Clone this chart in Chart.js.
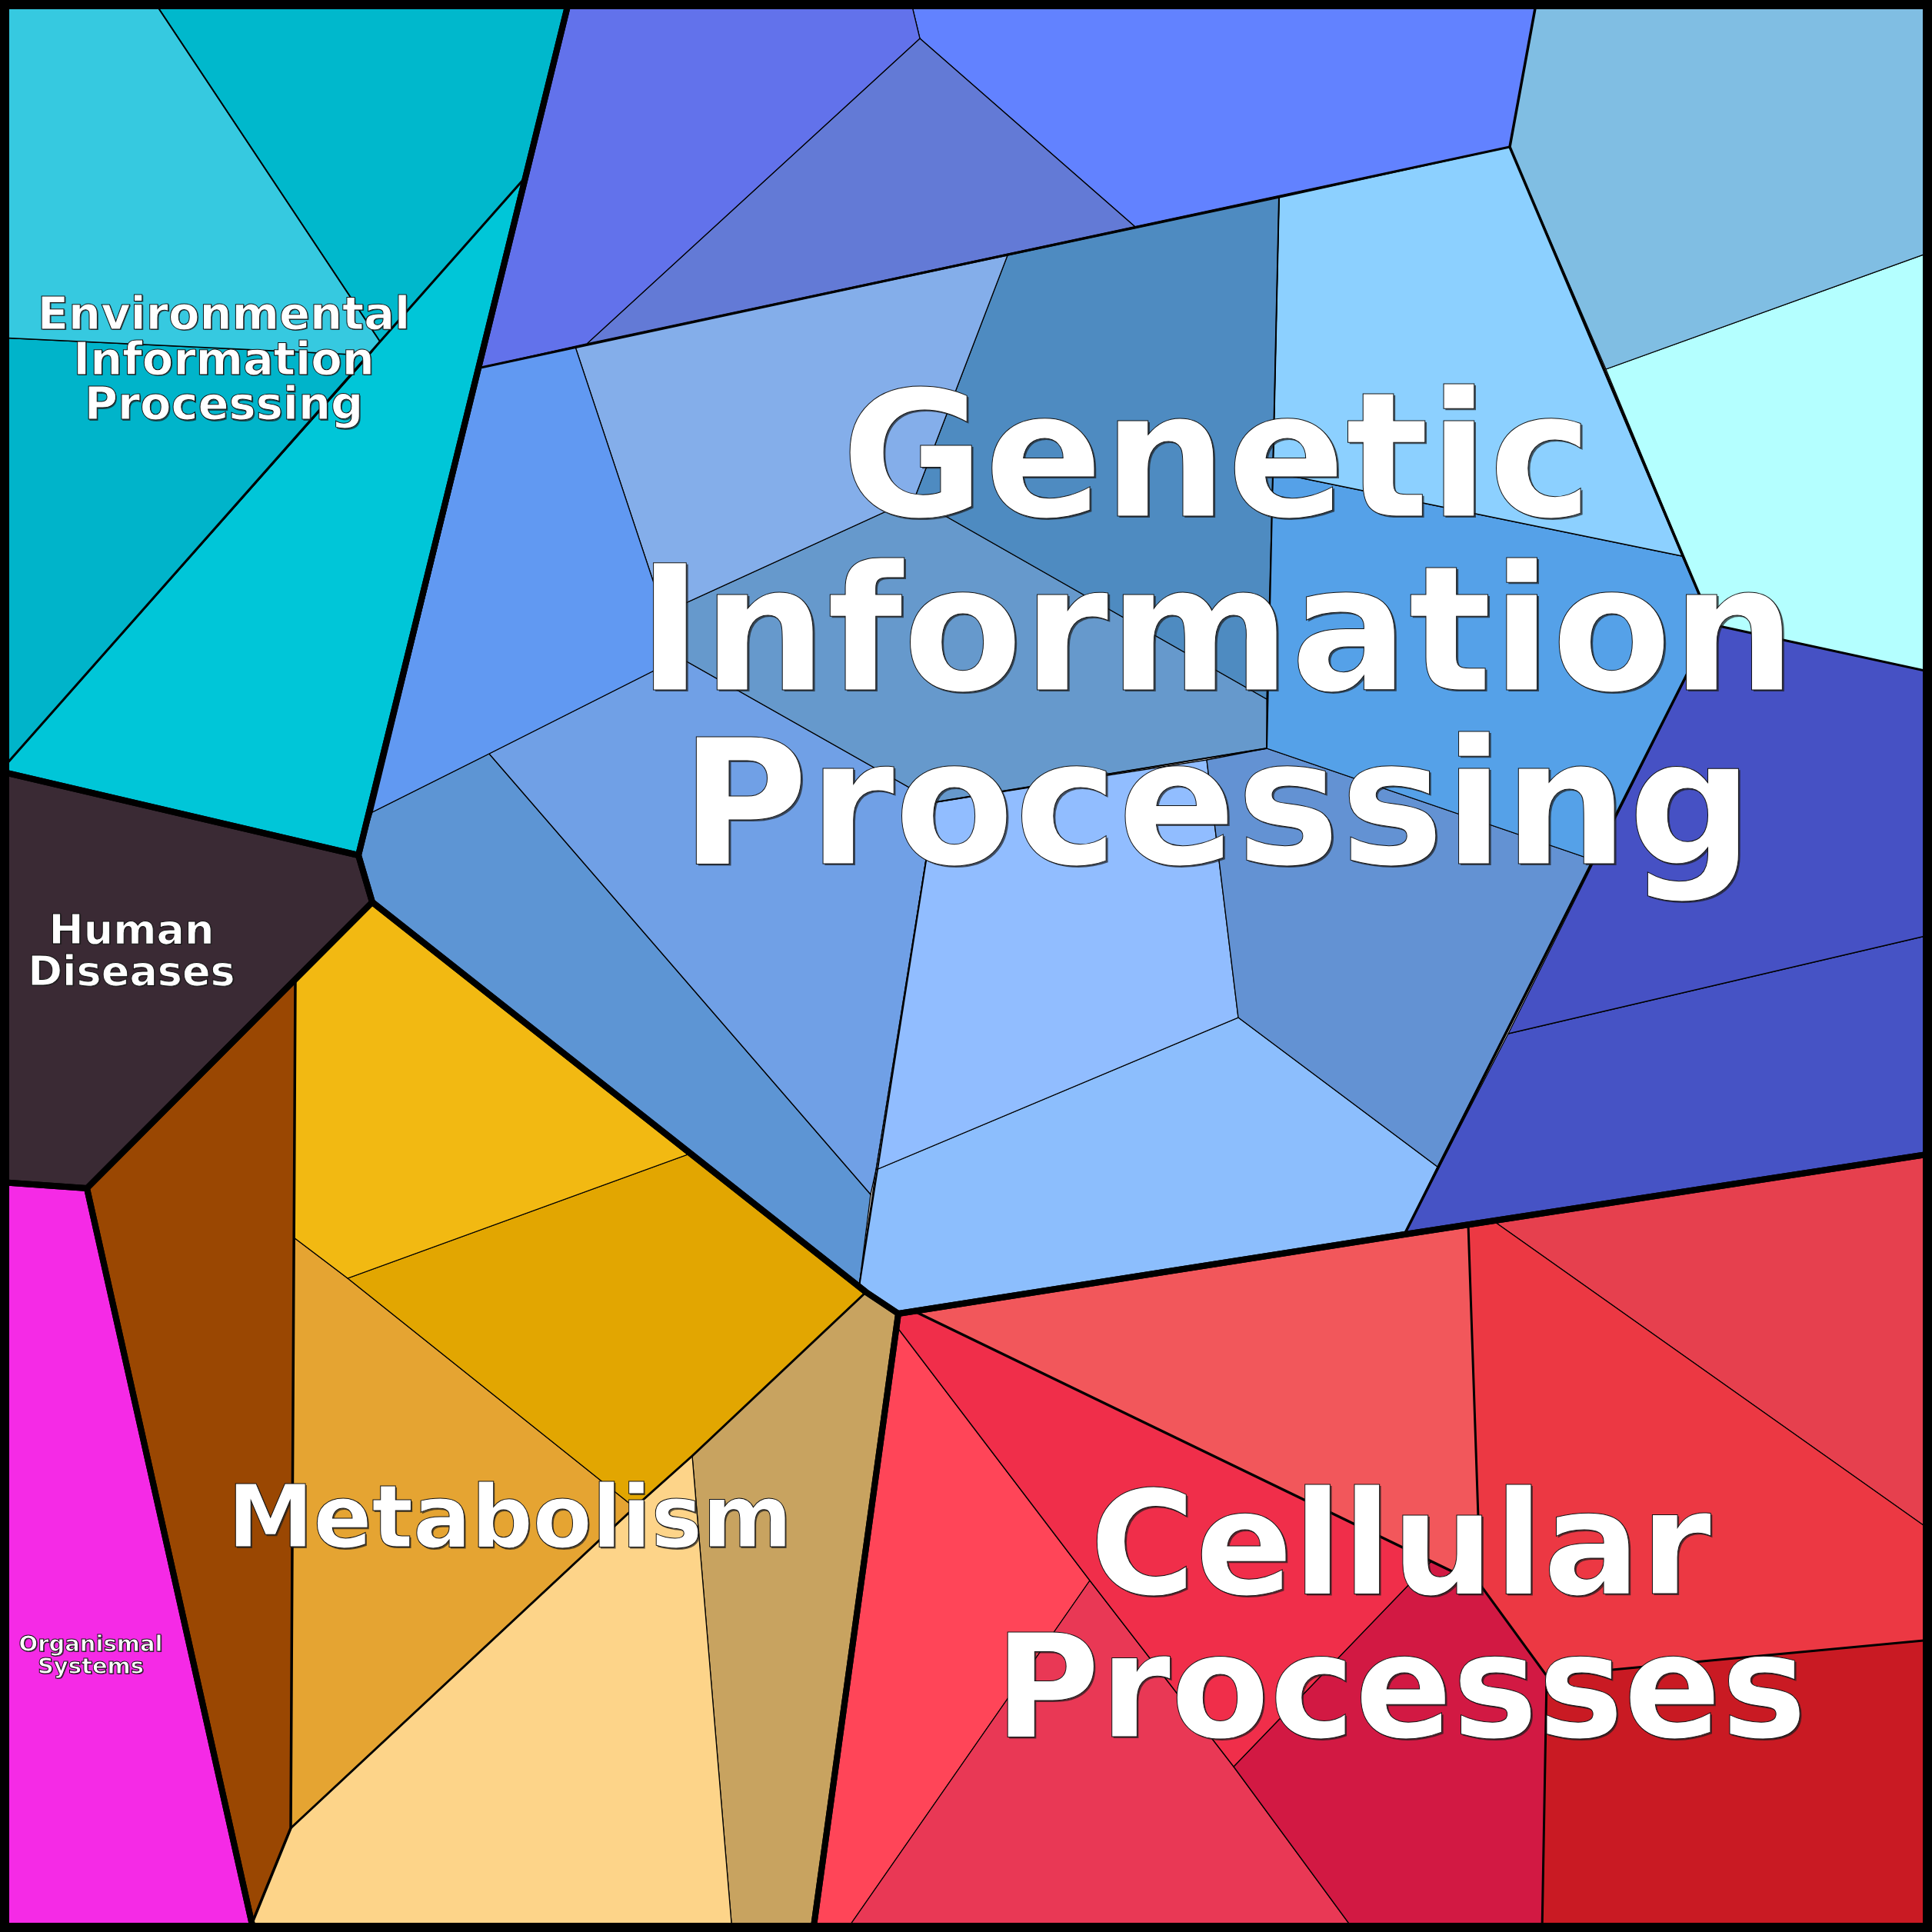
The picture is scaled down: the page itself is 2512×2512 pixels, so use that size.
<!DOCTYPE html>
<html>
<head>
<meta charset="utf-8">
<title>Voronoi treemap</title>
<script src="https://cdn.jsdelivr.net/npm/chart.js@4.4.1/dist/chart.umd.min.js"></script>
<style>
  html, body { margin: 0; padding: 0; background: #fff; }
  #voronoi { display: block; width: 2512px; height: 2512px; }
</style>
</head>
<body>
<canvas id="voronoi" width="2512" height="2512"></canvas>
<script>
// top level groups, in drawing order
const groupLabels = [
  ['Environmental', 'Information', 'Processing'],
  ['Human', 'Diseases'],
  ['Organismal', 'Systems'],
  ['Metabolism'],
  ['Genetic', 'Information', 'Processing'],
  ['Cellular', 'Processes']
];

// cell polygons (vertices in treemap units, 0..2512, y down)
const envCells = [
  [[0,0],[199,0],[494,444],[480,462],[0,439]],
  [[199,0],[740,0],[680,234],[494,444]],
  [[0,439],[480,462],[0,1003]],
  [[680,234],[466,1112],[0,1003],[480,462],[494,444]]
];
const humanCells = [
  [[0,1003],[466,1112],[484,1173],[384,1274],[113,1545],[0,1537]]
];
const organismalCells = [
  [[0,1537],[113,1545],[328,2500],[330,2512],[0,2512]]
];
const metabolismCells = [
  [[113,1545],[384,1274],[378,2377],[328,2500]],
  [[384,1274],[484,1173],[897,1500],[452,1662],[382,1609]],
  [[452,1662],[897,1500],[1126,1680],[900,1893],[825,1960]],
  [[382,1609],[452,1662],[825,1960],[378,2377]],
  [[378,2377],[825,1960],[900,1893],[952,2512],[330,2512],[328,2500]],
  [[900,1893],[1126,1680],[1168,1708],[1057,2512],[952,2512]]
];
const geneticCells = [
  [[740,0],[1184,0],[1196,50],[763,447],[625,478],[680,234]],
  [[1196,50],[1476,295],[763,447]],
  [[1184,0],[1998,0],[1963,191],[1476,295],[1196,50]],
  [[1998,0],[2512,0],[2512,327],[2088,480],[1963,191]],
  [[2088,480],[2512,327],[2512,874],[2226,812]],
  [[625,478],[748,451],[863,797],[884,855],[636,980],[484,1056]],
  [[748,451],[1310,332],[1189,648],[863,797]],
  [[1310,332],[1663,257],[1655,614],[1647,909],[1189,648]],
  [[863,797],[1189,648],[1647,909],[1647,973],[1216,1043],[884,855]],
  [[1663,257],[1963,191],[2187,723],[1655,614]],
  [[1655,614],[2187,723],[2226,812],[2071,1118],[1647,973],[1647,909]],
  [[2226,812],[2512,874],[2512,1215],[1961,1344]],
  [[1961,1344],[2512,1215],[2512,1500],[1826,1605]],
  [[1569,988],[1647,973],[2071,1118],[1869,1517],[1610,1323]],
  [[1216,1043],[1569,988],[1610,1323],[1139,1521]],
  [[1139,1521],[1610,1323],[1869,1517],[1826,1605],[1168,1708],[1126,1680],[1117,1673]],
  [[636,980],[884,855],[1216,1043],[1139,1521],[1132,1553]],
  [[484,1056],[636,980],[1132,1553],[1117,1673],[484,1173],[466,1112]]
];
const cellularCells = [
  [[1187,1704],[1909,1592],[1925,2061]],
  [[1168,1708],[1187,1704],[1861,2030],[1604,2297],[1417,2055],[1166,1725]],
  [[1861,2030],[1925,2061],[2011,2179],[2005,2512],[1762,2512],[1604,2297]],
  [[1417,2055],[1604,2297],[1762,2512],[1099,2512]],
  [[1166,1725],[1417,2055],[1099,2512],[1057,2512]],
  [[1909,1592],[1941,1587],[2512,1991],[2512,2132],[2011,2179],[1925,2061]],
  [[1941,1587],[2512,1500],[2512,1991]],
  [[2011,2179],[2512,2132],[2512,2512],[2005,2512]]
];

// group outlines and second level borders
const groupOutlines = [
  [[0,0],[740,0],[466,1112],[0,1003]],
  [[0,1003],[466,1112],[484,1173],[113,1545],[0,1537]],
  [[0,1537],[113,1545],[330,2512],[0,2512]],
  [[113,1545],[484,1173],[1126,1680],[1168,1708],[1057,2512],[330,2512]],
  [[740,0],[2512,0],[2512,1500],[1826,1605],[1168,1708],[1126,1680],[484,1173],[466,1112]],
  [[1168,1708],[1826,1605],[2512,1500],[2512,2512],[1057,2512]]
];
const subBorders = [
  [[680,234],[0,1003]],
  [[199,0],[494,444]],
  [[625,478],[1963,191]],
  [[1998,0],[1963,191],[2226,812],[1826,1605]],
  [[2226,812],[2512,874]],
  [[1663,257],[1655,614],[1647,973],[1216,1043],[1117,1673]],
  [[384,1274],[378,2377],[328,2500]],
  [[378,2377],[825,1960],[900,1893],[1126,1680]],
  [[1187,1704],[1925,2061]],
  [[1909,1592],[1925,2061],[2011,2179],[2512,2132]],
  [[2011,2179],[2005,2512]]
];
const subBorderWidths = [3, 2, 3, 3.5, 3, 2, 3.5, 3, 3.5, 3, 3];

// colours
const envColors = ['#36c9e0', '#00b8cc', '#00b4ca', '#00c6d8'];
const humanColors = ['#3a2a34'];
const organismalColors = ['#f52ae6'];
const metabolismColors = ['#9a4702', '#f2b912', '#e2a601', '#e5a432', '#fdd489', '#c8a360'];
const geneticColors = ['#6272eb', '#637ad6', '#6282ff', '#80bee3', '#b4ffff', '#6199f2',
  '#84aeea', '#4e8bc1', '#6699cc', '#8cd0ff', '#55a1e8', '#4651c4', '#4653c5',
  '#6392d3', '#91bdff', '#8cbefd', '#70a0e6', '#5d95d4'];
const cellularColors = ['#f2575b', '#f02e4a', '#d21943', '#e93855', '#ff4558',
  '#ec3843', '#e6404e', '#c91a23'];

// label placement: [x centre, first baseline, font size]
const labelLayout = [
  [291, 428, 59],
  [171, 1227, 54],
  [118, 2147, 29],
  [663, 2011, 112],
  [1582, 671, 227],
  [1821, 2072, 187]
];

function ring(poly, closeTwice) {
  const pts = poly.map(p => ({x: p[0], y: p[1]}));
  pts.push({x: poly[0][0], y: poly[0][1]});
  if (closeTwice) pts.push({x: poly[1][0], y: poly[1][1]});
  return pts;
}

const datasets = [];
const cellSets = [
  [envCells, envColors], [humanCells, humanColors], [organismalCells, organismalColors],
  [metabolismCells, metabolismColors], [geneticCells, geneticColors], [cellularCells, cellularColors]
];
cellSets.forEach(([cells, colors]) => {
  cells.forEach((poly, i) => {
    datasets.push({
      data: ring(poly),
      showLine: true,
      fill: 'shape',
      backgroundColor: colors[i],
      borderColor: '#000',
      borderWidth: 1.3,
      pointRadius: 0,
      order: 4
    });
  });
});
subBorders.forEach((line, i) => {
  datasets.push({
    data: line.map(p => ({x: p[0], y: p[1]})),
    showLine: true,
    fill: false,
    borderColor: '#000',
    borderWidth: subBorderWidths[i],
    borderCapStyle: 'round',
    borderJoinStyle: 'round',
    pointRadius: 0,
    order: 3
  });
});
groupOutlines.forEach(poly => {
  datasets.push({
    data: ring(poly, true),
    showLine: true,
    fill: false,
    borderColor: '#000',
    borderWidth: 8,
    borderJoinStyle: 'round',
    pointRadius: 0,
    order: 2
  });
});
datasets.push({
  data: ring([[0,0],[2512,0],[2512,2512],[0,2512]], true),
  showLine: true,
  fill: false,
  borderColor: '#000',
  borderWidth: 24,
  pointRadius: 0,
  order: 1
});

const labelPlugin = {
  id: 'groupLabels',
  afterDatasetsDraw(chart) {
    const {ctx, scales: {x, y}} = chart;
    groupLabels.forEach((lines, i) => {
      const [lx, ly, size] = labelLayout[i];
      const step = size * 0.995;
      const off = 1 + size * 0.006;
      ctx.save();
      ctx.font = 'bold ' + size + 'px "DejaVu Sans"';
      ctx.textAlign = 'center';
      ctx.textBaseline = 'alphabetic';
      lines.forEach((t, k) => {
        const px = x.getPixelForValue(lx);
        const py = y.getPixelForValue(ly + k * step);
        ctx.shadowColor = 'rgba(30,30,30,0.7)';
        ctx.shadowOffsetX = off;
        ctx.shadowOffsetY = off;
        ctx.shadowBlur = 0;
        ctx.fillStyle = '#fff';
        ctx.fillText(t, px, py);
        ctx.shadowColor = 'transparent';
        ctx.lineWidth = 1;
        ctx.strokeStyle = '#111';
        ctx.strokeText(t, px, py);
      });
      ctx.restore();
    });
  }
};

new Chart(document.getElementById('voronoi'), {
  type: 'scatter',
  data: { datasets: datasets },
  options: {
    responsive: false,
    animation: false,
    events: [],
    layout: { padding: 0 },
    scales: {
      x: { type: 'linear', min: 0, max: 2512, display: false },
      y: { type: 'linear', min: 0, max: 2512, reverse: true, display: false }
    },
    plugins: {
      legend: { display: false },
      tooltip: { enabled: false }
    }
  },
  plugins: [labelPlugin]
});
</script>
</body>
</html>
